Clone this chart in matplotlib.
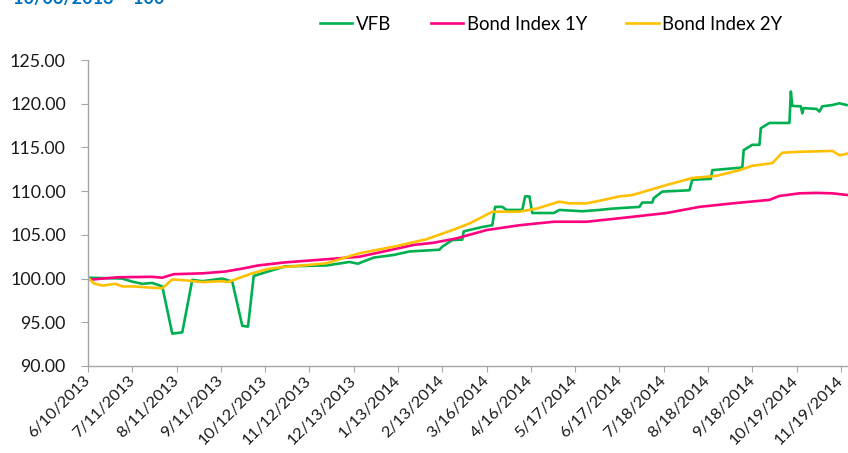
import datetime as dt
import matplotlib
matplotlib.use("Agg")
import matplotlib.pyplot as plt
from matplotlib.ticker import FuncFormatter, MultipleLocator

# data: day offsets from 6/10/2013 and index values
vfb_days = [0, 24, 31, 38, 45, 52, 59, 66, 73, 80, 94, 101, 108, 112, 116, 138, 167, 183,
            189, 192, 200, 214, 225, 246, 248, 255, 262, 263, 276, 283, 285, 290, 293, 304,
            306, 309, 311, 326, 330, 346, 358, 367, 386, 388, 395, 396, 402, 421, 423, 436,
            437, 451, 458, 459, 465, 470, 471, 477, 491, 492, 493, 499, 500, 501, 510, 512,
            514, 521, 526, 531]
vfb_vals = [100.1, 100.0, 99.65, 99.4, 99.5, 99.1, 93.7, 93.85, 99.85, 99.7, 100.0, 99.65, 94.6,
            94.5, 100.3, 101.4, 101.5, 101.9, 101.7, 101.9, 102.4, 102.7, 103.1, 103.3, 103.65,
            104.4, 104.45, 105.4, 105.9, 106.1, 108.2, 108.2, 107.85, 107.85, 109.4, 109.4,
            107.5, 107.5, 107.85, 107.7, 107.85, 108.0, 108.2, 108.7, 108.7, 109.2, 109.95,
            110.1, 111.3, 111.4, 112.4, 112.6, 112.7, 114.7, 115.3, 115.3, 117.2, 117.8, 117.8,
            121.4, 119.75, 119.7, 118.9, 119.5, 119.4, 119.1, 119.7, 119.85, 120.05, 119.85]

bond1y_days = [0, 21, 45, 52, 60, 80, 96, 110, 119, 138, 190, 214, 228, 242, 258, 279, 302,
               326, 349, 372, 405, 428, 451, 477, 484, 498, 510, 521, 532]
bond1y_vals = [99.85, 100.15, 100.2, 100.1, 100.5, 100.6, 100.8, 101.2, 101.5, 101.85, 102.5,
               103.35, 103.85, 104.1, 104.6, 105.55, 106.1, 106.5, 106.5, 106.9, 107.5, 108.2,
               108.6, 109.0, 109.45, 109.75, 109.8, 109.75, 109.55]

bond2y_days = [0, 4, 10, 19, 24, 33, 45, 52, 59, 68, 80, 94, 98, 108, 115, 126, 138, 144, 167,
               190, 214, 237, 249, 256, 267, 279, 283, 302, 314, 330, 337, 349, 361, 372, 381,
               405, 423, 440, 456, 465, 479, 486, 498, 521, 526, 532]
bond2y_vals = [100.1, 99.45, 99.2, 99.4, 99.1, 99.1, 98.95, 98.9, 99.9, 99.8, 99.6, 99.7, 99.6,
               100.2, 100.6, 101.1, 101.35, 101.4, 101.75, 102.9, 103.65, 104.5, 105.2, 105.6,
               106.3, 107.3, 107.65, 107.65, 108.0, 108.8, 108.6, 108.6, 109.0, 109.4, 109.55,
               110.7, 111.5, 111.75, 112.4, 112.9, 113.2, 114.4, 114.5, 114.6, 114.1, 114.3]

start = dt.date(2013, 6, 10)
tick_days = list(range(0, 528, 31))

plt.rcParams["font.family"] = ["Lato", "DejaVu Sans"]

fig = plt.figure(figsize=(8.48, 4.53), dpi=100)
ax = fig.add_axes([88 / 848, 87 / 453, 1 - 88 / 848, 306 / 453])

ax.plot(vfb_days, vfb_vals, color="#00B050", lw=1.9, label="VFB")
ax.plot(bond1y_days, bond1y_vals, color="#FF007F", lw=1.9, label="Bond Index 1Y")
ax.plot(bond2y_days, bond2y_vals, color="#FFC000", lw=1.9, label="Bond Index 2Y")

ax.set_xlim(0, 532)
ax.set_ylim(90, 125)
ax.yaxis.set_major_locator(MultipleLocator(5))
ax.yaxis.set_major_formatter(FuncFormatter(lambda v, p: f"{v:.2f}"))

ax.set_xticks(tick_days)
labels = []
for d in tick_days:
    day = start + dt.timedelta(days=d)
    labels.append(f"{day.month}/{day.day}/{day.year}")
ax.set_xticklabels(labels, rotation=45, ha="right", va="center", rotation_mode="anchor")

for side in ["top", "right"]:
    ax.spines[side].set_visible(False)
for side in ["left", "bottom"]:
    ax.spines[side].set_color("#A6A6A6")
    ax.spines[side].set_linewidth(1.0)
ax.tick_params(axis="y", length=5, color="#A6A6A6", labelsize=12.8, labelcolor="#1a1a1a", pad=11)
ax.tick_params(axis="x", length=4, color="#A6A6A6", labelsize=11.8, labelcolor="#1a1a1a", pad=5)

ax.legend(loc="center right", bbox_to_anchor=(790 / 848, 1 - 24 / 453), bbox_transform=fig.transFigure,
          ncol=3, frameon=False, fontsize=13.4, handlelength=1.75, handletextpad=0.2,
          columnspacing=2.1, borderaxespad=0)

fig.text(13 / 848, 1 - 4 / 453, "10/06/2013 = 100", color="#0070C0", fontsize=13,
         fontweight="bold", va="baseline", ha="left")

fig.savefig("out.png", dpi=100)
